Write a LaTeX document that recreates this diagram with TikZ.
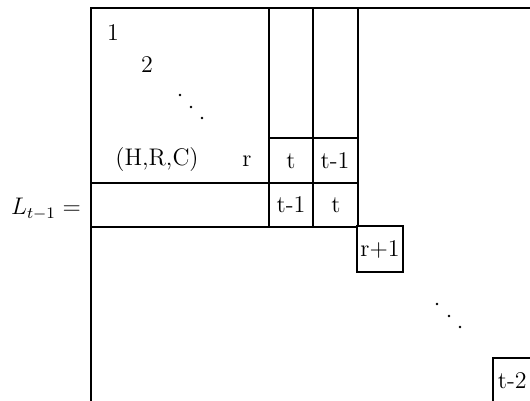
\documentclass[tikz,border=0pt]{standalone}
\usepackage{amsmath}
\usepackage{amssymb}
\usepackage{tikz}

\begin{document}
\begin{tikzpicture}[x=0.5pt,y=0.5pt,yscale=-1,xscale=1,every node/.style={font=\large,inner sep=0.75pt}]
\useasboundingbox (0,0) rectangle (530,401);
\clip (0,0) rectangle (530,401);

%Shape: Frame of the matrix
\draw [line width=0.75]  (530,8) -- (91,8) -- (91,401) ;
%Straight Lines: column borders
\draw [line width=0.75]  (269,8) -- (269,227) ;
\draw [line width=0.75]  (313,8) -- (313,227) ;
\draw [line width=0.75]  (358,8) -- (358,227) ;
%Straight Lines: row borders
\draw [line width=0.75]  (269,138) -- (358,138) ;
\draw [line width=0.75]  (91,183) -- (358,183) ;
\draw [line width=0.75]  (91,227) -- (358,227) ;
%Shape: Rectangle [r+1]
\draw [line width=0.75]  (357,226) rectangle (403,272) ;
%Shape: Rectangle [t-2]
\draw [line width=0.75]  (493,358) rectangle (545,420) ;

%Dots
\fill (180,95) circle (1.3) (191,107) circle (1.3) (202,118) circle (1.3) ;
\fill (437,304) circle (1.3) (449,316) circle (1.3) (460,327) circle (1.3) ;

% Text Node
\draw (46,209) node (lhs) {$L_{t-1} =$};
% Text Node
\draw (113,33) node (one) {1};
% Text Node
\draw (147,65) node (two) {2};
% Text Node
\draw (157,160) node (hrc) {(H,R,C)};
% Text Node
\draw (247,161) node (rr) {r};
% Text Node
\draw (291,161) node (tA) {t};
% Text Node
\draw (335,161) node (tmA) {t-1};
% Text Node
\draw (291,205) node (tmB) {t-1};
% Text Node
\draw (336,205) node (tB) {t};
% Text Node
\draw (380,249) node (rp) {r+1};
% Text Node
\draw (496,381) node [anchor=west] (tm2) {t-2};

\end{tikzpicture}
\end{document}
